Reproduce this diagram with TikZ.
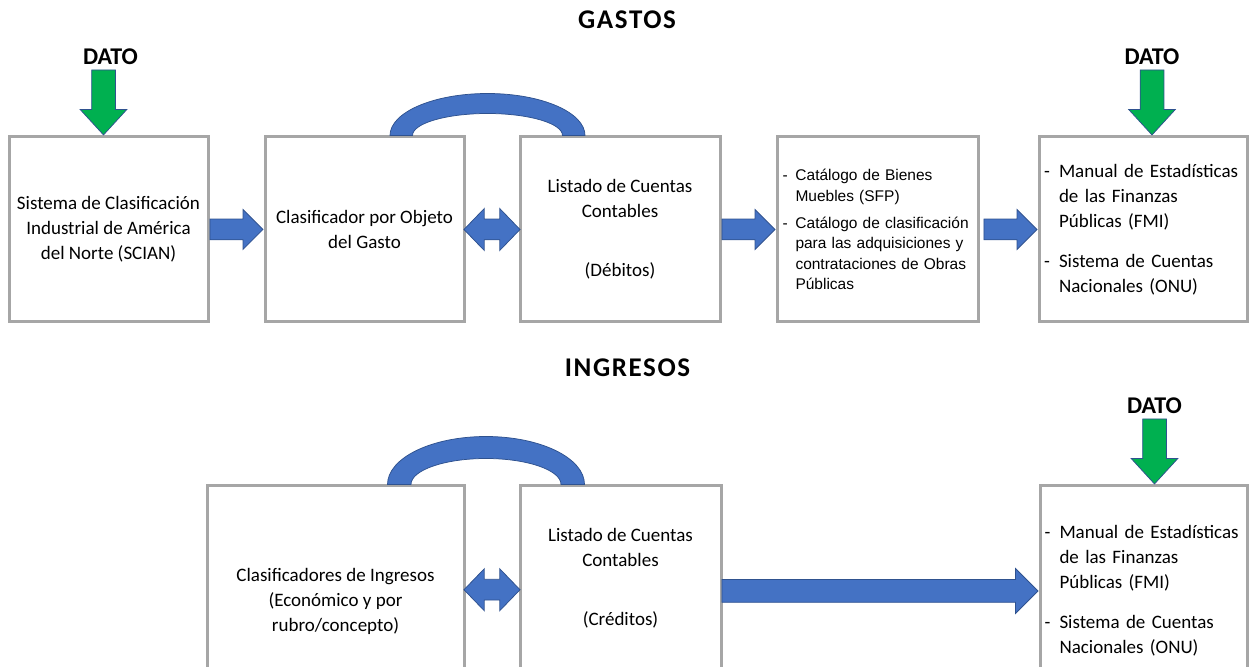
\documentclass[tikz,border=0pt]{standalone}
\usepackage{fontspec}
\setmainfont{Carlito}
\newfontfamily\arialfont{Liberation Sans}
\newfontfamily\titlefont[LetterSpace=6]{Carlito}
\usetikzlibrary{shapes.arrows,calc,positioning}
\definecolor{boxgray}{RGB}{166,166,166}
\definecolor{arrowblue}{RGB}{68,114,196}
\definecolor{edgeblue}{RGB}{47,82,143}
\definecolor{datogreen}{RGB}{0,176,80}
\hyphenpenalty=10000
\begin{document}
\begin{tikzpicture}[x=1pt,y=1pt,
    caja/.style={draw=boxgray, line width=3pt, fill=white, minimum height=185pt, inner sep=0pt, align=center, font=\fontsize{19}{25}\selectfont},
    titulo/.style={font=\titlefont\bfseries\fontsize{27}{32}\selectfont},
    datotxt/.style={font=\bfseries\fontsize{24}{28}\selectfont, inner sep=0pt},
    flecha/.style={single arrow, draw=edgeblue, fill=arrowblue, line width=0.75pt, inner xsep=0pt, inner ysep=10pt, minimum width=0pt, single arrow head extend=9.5pt, single arrow tip angle=90, minimum height=53pt, anchor=tip},
    doble/.style={double arrow, draw=edgeblue, fill=arrowblue, line width=0.75pt, inner xsep=0pt, inner ysep=10pt, minimum width=0pt, double arrow head extend=10.5pt, double arrow tip angle=92, minimum height=56pt},
    dato/.style={single arrow, draw=edgeblue, fill=datogreen, line width=0.75pt, inner xsep=0pt, inner ysep=11.5pt, minimum width=0pt, single arrow head extend=11.5pt, single arrow tip angle=85, minimum height=65pt, rotate=-90, anchor=tip},
    arco/.style={draw=edgeblue, fill=arrowblue, line width=0.75pt}]
    \useasboundingbox (0,0) rectangle (1251,667);
    \clip (0,0) rectangle (1251,667);

    \node[titulo] (gastos) at (627,647) {GASTOS};
    \node[caja, minimum width=199pt] (scian) at (108.5,437.5) {Sistema de Clasificación\\Industrial de América\\del Norte (SCIAN)};
    \node[caja, minimum width=199pt] (cog) at (364.5,437.5) {Clasificador por Objeto\\del Gasto};
    \node[caja, minimum width=200pt] (lcc) at (620,437.5) {Listado de Cuentas\\Contables\\[34pt](Débitos)};
    \node[caja, minimum width=201pt, align=left, text width=190pt, font=\arialfont\fontsize{15.5}{20.5}\selectfont] (cat) at (877.5,437.5) {\makebox[13pt][l]{-}Catálogo de Bienes\\ \hspace*{13pt}Muebles (SFP)\\[6.5pt] \makebox[13pt][l]{-}Catálogo de clasificación\\ \hspace*{13pt}para las adquisiciones y\\ \hspace*{13pt}contrataciones de Obras\\ \hspace*{13pt}Públicas};
    \node[caja, minimum width=208pt, align=left, text width=198pt] (fmi) at (1143,437.5) {\makebox[15pt][l]{-}Manual de Estadísticas\\ \hspace*{15pt}de las Finanzas\\ \hspace*{15pt}Públicas (FMI)\\[15pt] \makebox[15pt][l]{-}Sistema de Cuentas\\ \hspace*{15pt}Nacionales (ONU)};

    \node[flecha] (f1) at (cog.west) {};
    \node[doble] (f2) at ($(cog.east)!.5!(lcc.west)$) {};
    \node[flecha] (f3) at (cat.west) {};
    \node[flecha] (f4) at (fmi.west) {};
    \filldraw[arco] ([xshift=25.5pt]cog.north) arc[start angle=180, end angle=0, x radius=97.5, y radius=42] -- ++(-22.5,0) arc[start angle=0, end angle=180, x radius=75, y radius=22] -- cycle;

    \node[dato] (d1) at ([xshift=-5pt]scian.north) {};
    \node[datotxt, above=5pt of d1.tail, xshift=7pt] (t1) {DATO};
    \node[dato] (d2) at ([xshift=9pt]fmi.north) {};
    \node[datotxt, above=5pt of d2.tail] (t2) {DATO};

    \node[titulo] (ingresos) at (627.5,299) {INGRESOS};
    \node[caja, minimum width=257pt, minimum height=230pt] (ci) at (335.5,66) {Clasificadores de Ingresos\\(Económico y por\\rubro/concepto)};
    \node[caja, minimum width=201pt] (lcc2) at (620.5,88.5) {Listado de Cuentas\\Contables\\[34pt](Créditos)};
    \node[caja, minimum width=207pt, minimum height=210pt, align=left, text width=198pt] (fmi2) at (1143.5,76) {\makebox[15pt][l]{-}Manual de Estadísticas\\ \hspace*{15pt}de las Finanzas\\ \hspace*{15pt}Públicas (FMI)\\[15pt] \makebox[15pt][l]{-}Sistema de Cuentas\\ \hspace*{15pt}Nacionales (ONU)};

    \node[doble] (f5) at ($(ci.east)!.5!(lcc2.west)$) {};
    \node[flecha, minimum height=316pt, inner ysep=11pt, single arrow head extend=11pt] (f6) at (fmi2.west) {};
    \filldraw[arco] ([xshift=52pt]ci.north) arc[start angle=180, end angle=0, x radius=98.5, y radius=48] -- ++(-23.5,0) arc[start angle=0, end angle=180, x radius=75, y radius=26] -- cycle;

    \node[dato] (d3) at ([xshift=11pt]fmi2.north) {};
    \node[datotxt, above=5pt of d3.tail] (t3) {DATO};
\end{tikzpicture}
\end{document}
